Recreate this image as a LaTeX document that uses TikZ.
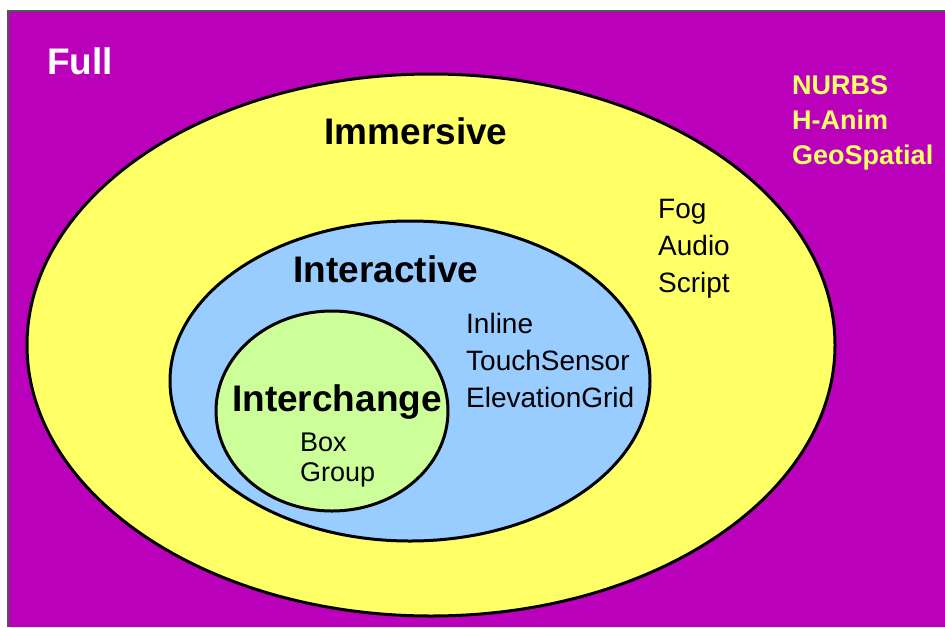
\documentclass[tikz,border=0pt]{standalone}
\usepackage{fontspec}
\setmainfont{Liberation Sans}

\definecolor{fullpurple}{HTML}{BB00BB}
\definecolor{immyellow}{HTML}{FFFF66}
\definecolor{interblue}{HTML}{99CCFF}
\definecolor{changegreen}{HTML}{CCFF99}
\definecolor{edgegray}{HTML}{555555}

\tikzset{
  profile/.style={line width=3pt, draw=black},
  title/.style={font=\bfseries\fontsize{37}{40}\selectfont, inner sep=0pt},
  items/.style={font=\fontsize{28}{37}\selectfont, align=left, anchor=west, inner sep=0pt},
}

\begin{document}
\begin{tikzpicture}[x=1pt, y=-1pt]
  \useasboundingbox (0,0) rectangle (945,627);
  % Full profile background
  \fill[white] (0,0) rectangle (945,627);
  \fill[fullpurple] (8,11) rectangle (945,627);
  \draw[edgegray, line width=2pt] (8,627) -- (8,11) -- (945,11);

  % nested profiles
  \filldraw[profile, fill=immyellow] (431,345) ellipse (404pt and 271pt);
  \filldraw[profile, fill=interblue] (410,381) ellipse (240pt and 160pt);
  \filldraw[profile, fill=changegreen] (332,411) ellipse (116pt and 100pt);

  % profile names
  \node[title, text=white] (full) at (80,61) {Full};
  \node[title] (immersive) at (416,131) {Immersive};
  \node[title] (interactive) at (386,269) {Interactive};
  \node[title] (interchange) at (337,402) {Interchange};

  % components of each profile
  \node[items, font=\bfseries\fontsize{27}{35}\selectfont, text=immyellow] (fullitems) at (792,123)
    {NURBS\\H-Anim\\GeoSpatial};
  \node[items] (immitems) at (658,249) {Fog\\Audio\\Script};
  \node[items] (interitems) at (466,360) {Inline\\TouchSensor\\ElevationGrid};
  \node[items, font=\fontsize{27}{30}\selectfont] (changeitems) at (300,460) {Box\\Group};
\end{tikzpicture}
\end{document}
